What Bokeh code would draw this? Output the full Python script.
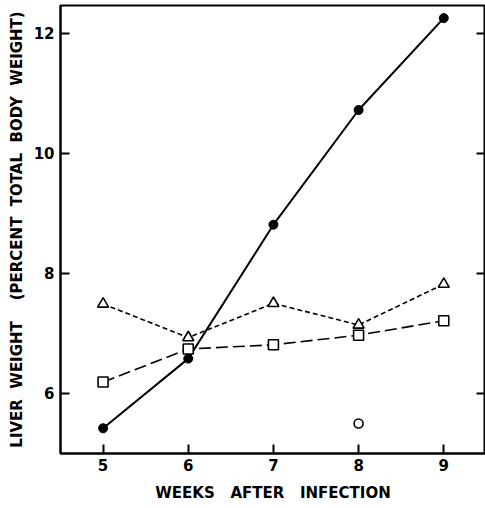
from bokeh.plotting import figure
from bokeh.models import LinearAxis, FixedTicker, Range1d
from bokeh.embed import file_html
from bokeh.resources import INLINE

weeks = [5, 6, 7, 8, 9]
filled_circle = [5.42, 6.58, 8.81, 10.72, 12.25]
triangle = [7.49, 6.93, 7.50, 7.14, 7.82]
square = [6.19, 6.74, 6.81, 6.97, 7.21]
open_circle_x = [8]
open_circle_y = [5.50]

x_ticks = [5, 6, 7, 8, 9]
y_ticks = [6, 8, 10, 12]

FONT = "DejaVu Sans"
NB = "\u00a0"
xlabel = "WEEKS" + NB * 3 + "AFTER" + NB * 3 + "INFECTION"
ylabel = ("LIVER" + NB * 2 + "WEIGHT" + NB * 4 + "(PERCENT" + NB * 2 + "TOTAL" + NB * 2
          + "BODY" + NB * 2 + "WEIGHT)")

p = figure(width=485, height=504, output_backend="svg", toolbar_location=None,
           x_range=Range1d(4.5, 9.49), y_range=Range1d(5.0, 12.46),
           min_border_left=60, min_border_right=0, min_border_top=5, min_border_bottom=50,
           x_axis_label=xlabel, y_axis_label=ylabel)
p.xgrid.visible = False
p.ygrid.visible = False
p.outline_line_color = "black"
p.outline_line_width = 2
p.outline_line_alpha = 1

for ax in (p.xaxis[0], p.yaxis[0]):
    ax.axis_line_width = 2
    ax.major_tick_in = 9
    ax.major_tick_out = 0
    ax.minor_tick_in = 0
    ax.minor_tick_out = 0
    ax.major_tick_line_width = 2
    ax.major_label_text_font = FONT
    ax.major_label_text_font_size = "15px"
    ax.major_label_text_font_style = "bold"
    ax.major_label_text_color = "black"
    ax.axis_label_text_font = FONT
    ax.axis_label_text_font_size = "15px"
    ax.axis_label_text_font_style = "bold"
    ax.axis_label_text_color = "black"

p.xaxis[0].ticker = FixedTicker(ticks=x_ticks)
p.yaxis[0].ticker = FixedTicker(ticks=y_ticks)
p.xaxis[0].major_label_standoff = 5
p.xaxis[0].axis_label_standoff = 10
p.yaxis[0].major_label_standoff = 6
p.yaxis[0].axis_label_standoff = 5
p.yaxis[0].major_label_orientation = "horizontal"

ra = LinearAxis(ticker=FixedTicker(ticks=y_ticks))
ra.axis_line_width = 2
ra.major_tick_in = 9
ra.major_tick_out = 0
ra.minor_tick_in = 0
ra.minor_tick_out = 0
ra.major_label_overrides = {t: "" for t in y_ticks}
ra.major_label_standoff = 0
ra.major_tick_line_width = 2
p.add_layout(ra, "right")

p.line(weeks, filled_circle, line_color="black", line_width=2)
p.scatter(weeks, filled_circle, marker="circle", size=9, fill_color="black", line_color="black")

p.line(weeks, triangle, line_color="black", line_width=1.6, line_dash="5 3")
p.scatter(weeks, triangle, marker="triangle", size=11, fill_color="white", line_color="black", line_width=1.6)

p.line(weeks, square, line_color="black", line_width=1.6, line_dash="12 5")
p.scatter(weeks, square, marker="square", size=10, fill_color="white", line_color="black", line_width=1.6)

p.scatter(open_circle_x, open_circle_y, marker="circle", size=9, fill_color="white", line_color="black", line_width=1.6)

open("out.html", "w").write(file_html(p, INLINE))
